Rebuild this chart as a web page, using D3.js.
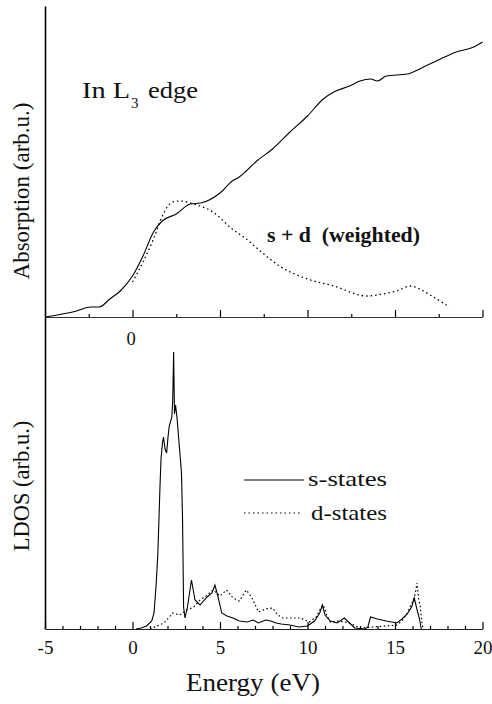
<!DOCTYPE html>
<html>
<head>
<meta charset="utf-8">
<script src="https://cdn.jsdelivr.net/npm/d3@7"></script>
<style>
  html, body { margin: 0; padding: 0; background: #fff; }
  svg { display: block; }
  text { font-family: "Liberation Serif", "Times New Roman", serif; fill: #111; }
</style>
</head>
<body>
<svg id="chart" width="492" height="704"></svg>
<script>
// ---------- DATA ----------
// Top panel: experimental In L3-edge absorption (arb. u.)
const energyAbs = [-5, -3.2, -2.4, -1.9, -1.3, -0.7, 0, 0.6, 1.2, 1.7, 2.5, 3.3, 3.9, 5.0, 5.7, 6.1, 6.5, 7.1, 8.0, 9.0, 10.0, 10.9, 11.5, 12.4, 13.0, 13.6, 14.0, 14.5, 15.7, 16.4, 17.6, 18.5, 19.5, 20];
const absExp    = [0, 6, 10, 10, 18, 26, 41, 61, 85, 96, 103, 113, 114, 124, 136, 140, 146, 156, 168, 185, 201, 218, 225, 231, 236, 238, 236, 241, 243, 248, 258, 265, 270, 275];
// Top panel: calculated s + d (weighted)
const energySD = [0, 0.6, 1.2, 1.7, 2.3, 2.7, 3.5, 4.6, 5.7, 6.1, 6.5, 7.3, 8.4, 10.0, 11.5, 13.4, 14.3, 15.1, 15.9, 16.4, 17.2, 18.1];
const absSD    = [35, 55, 78, 101, 115, 116, 113, 105, 88, 83, 78, 66, 51, 38, 31, 21, 23, 26, 31, 28, 20, 10];
// Bottom panel: LDOS s-states
const energyS = [0.2, 0.5, 0.8, 1.1, 1.23, 1.35, 1.45, 1.57, 1.63, 1.71, 1.77, 1.86, 1.95, 2.03, 2.1, 2.25, 2.3, 2.35, 2.4, 2.46, 2.54, 2.8, 2.86, 2.92, 3.0, 3.14, 3.37, 3.57, 3.86, 4.26, 4.54, 4.71, 4.89, 5.1, 5.4, 5.74, 6.1, 6.54, 6.9, 7.2, 7.6, 7.9, 8.2, 8.5, 9.0, 9.5, 10.0, 10.4, 10.7, 10.85, 11.0, 11.3, 11.7, 12.1, 12.4, 12.7, 13.3, 13.45, 13.6, 14.0, 14.5, 15.1, 15.4, 15.7, 15.95, 16.1, 16.25, 16.4, 16.5];
const ldosS   = [0, 1, 3, 8, 16, 44, 76, 142, 170, 186, 192, 180, 176, 192, 203, 212, 230, 277, 215, 224, 212, 156, 109, 22, 11, 22, 49, 29, 24, 32, 36, 44, 32, 16, 13, 11, 8, 7, 9, 6, 9, 8, 6, 5, 4, 2, 3, 8, 16, 24, 14, 8, 6, 11, 6, 1, 0, 2, 12, 10, 8, 6, 10, 15, 22, 31, 20, 10, 0];
// Bottom panel: LDOS d-states
const energyD = [1.0, 1.4, 1.8, 2.3, 2.7, 3.1, 3.5, 3.86, 4.2, 4.6, 5.0, 5.37, 5.74, 6.1, 6.5, 6.8, 7.2, 7.6, 8.0, 8.3, 8.6, 9.0, 9.6, 10.1, 10.5, 10.7, 10.9, 11.1, 11.3, 11.8, 12.4, 13.0, 13.7, 14.5, 15.1, 15.4, 15.7, 16.0, 16.15, 16.26, 16.35, 16.43, 16.55, 16.6];
const ldosD   = [0, 3, 6, 16, 14, 19, 22, 29, 33, 39, 33, 39, 31, 28, 39, 32, 17, 20, 21, 14, 11, 11, 11, 7, 12, 19, 24, 14, 7, 8, 6, 1, 2, 3, 4, 8, 16, 27, 35, 46, 30, 24, 5, 1];
// Axis ticks
const majorTicks = [-5, 0, 5, 10, 15, 20];
const tickLabels = ["-5", "0", "5", "10", "15", "20"];
const topMajorTicks = [0, 5, 10, 15, 20];
const topMinorTicks = [-2.5, 2.5, 7.5, 12.5, 17.5];
const bottomMinorTicks = d3.range(-4, 20, 1).filter(v => v % 5 !== 0);
const topTickLabel = ["0"];
const legendLabels = ["s-states", "d-states"];

// ---------- SCALES ----------
const svg = d3.select("#chart");
const x = d3.scaleLinear().domain([-5, 20]).range([45, 482.5]);
const yTop = d3.scaleLinear().domain([0, 312]).range([317, 5]);
const yBot = d3.scaleLinear().domain([0, 300]).range([629, 329]);

const zip = (a, b) => a.map((v, i) => [v, b[i]]);

// ---------- AXES ----------
// left vertical axis spanning both panels
const yFull = d3.scaleLinear().domain([0, 1]).range([629, 6]);
svg.append("g").attr("transform", "translate(45,0)")
  .call(d3.axisLeft(yFull).tickValues([]).tickSizeOuter(0))
  .call(g => g.select(".domain").attr("stroke", "#000").attr("stroke-width", 1.6));

// top panel baseline
svg.append("g").attr("transform", `translate(0,${yTop(0)})`)
  .call(d3.axisBottom(x).tickValues(topMajorTicks).tickSize(-7).tickSizeOuter(0).tickFormat(""))
  .call(g => g.select(".domain").attr("stroke", "#333").attr("stroke-width", 1.2))
  .call(g => g.selectAll(".tick line").attr("stroke", "#000").attr("stroke-width", 1.2));
svg.append("g").attr("transform", `translate(0,${yTop(0)})`)
  .call(d3.axisBottom(x).tickValues(topMinorTicks).tickSize(-3).tickFormat(""))
  .call(g => g.select(".domain").remove())
  .call(g => g.selectAll(".tick line").attr("stroke", "#000").attr("stroke-width", 1.2));
svg.append("text").attr("x", x(0) - 1.5).attr("y", 345).attr("text-anchor", "middle")
  .attr("font-size", 18.5).text(topTickLabel[0]);

// bottom panel axis
svg.append("g").attr("transform", `translate(0,${yBot(0)})`)
  .call(d3.axisBottom(x).tickValues(majorTicks).tickSize(-7).tickSizeOuter(0).tickPadding(12)
        .tickFormat((d, i) => tickLabels[i]))
  .call(g => g.select(".domain").attr("stroke", "#222").attr("stroke-width", 1.2))
  .call(g => g.selectAll(".tick line").attr("stroke", "#000").attr("stroke-width", 1.2))
  .call(g => g.selectAll(".tick text").attr("font-size", 19).attr("font-family", "Liberation Serif").attr("fill", "#111"));
svg.append("g").attr("transform", `translate(0,${yBot(0)})`)
  .call(d3.axisBottom(x).tickValues(bottomMinorTicks).tickSize(-3).tickFormat(""))
  .call(g => g.select(".domain").remove())
  .call(g => g.selectAll(".tick line").attr("stroke", "#000").attr("stroke-width", 1.2));

// ---------- CURVES ----------
const lineTop = d3.line().x(d => x(d[0])).y(d => yTop(d[1])).curve(d3.curveMonotoneX);
const lineBot = d3.line().x(d => x(d[0])).y(d => yBot(d[1]));

svg.append("path").datum(zip(energyAbs, absExp)).attr("d", lineTop)
  .attr("fill", "none").attr("stroke", "#000").attr("stroke-width", 1.1);
svg.append("path").datum(zip(energySD, absSD)).attr("d", lineTop)
  .attr("fill", "none").attr("stroke", "#000").attr("stroke-width", 1.3).attr("stroke-dasharray", "1.5,3");

svg.append("path").datum(zip(energyD, ldosD)).attr("d", lineBot)
  .attr("fill", "none").attr("stroke", "#000").attr("stroke-width", 1.2).attr("stroke-dasharray", "1.5,2.5");
svg.append("path").datum(zip(energyS, ldosS)).attr("d", lineBot)
  .attr("fill", "none").attr("stroke", "#000").attr("stroke-width", 1.1);

// ---------- TEXT ----------
svg.append("text").attr("transform", "translate(29,191) rotate(-90)").attr("text-anchor", "middle")
  .attr("font-size", 23).text("Absorption (arb.u.)");
svg.append("text").attr("transform", "translate(29,486) rotate(-90)").attr("text-anchor", "middle")
  .attr("font-size", 22.5).text("LDOS (arb.u.)");

svg.append("text").attr("x", 186).attr("y", 691).attr("font-size", 26)
  .attr("textLength", 134).attr("lengthAdjust", "spacingAndGlyphs").text("Energy (eV)");

svg.append("text").attr("x", 82).attr("y", 98).attr("font-size", 24)
  .attr("textLength", 48).attr("lengthAdjust", "spacingAndGlyphs").text("In L");
svg.append("text").attr("x", 131).attr("y", 108).attr("font-size", 15).text("3");
svg.append("text").attr("x", 148).attr("y", 98).attr("font-size", 24)
  .attr("textLength", 50).attr("lengthAdjust", "spacingAndGlyphs").text("edge");

svg.append("text").attr("x", 267).attr("y", 242).attr("font-size", 20).attr("font-weight", "bold")
  .style("white-space", "pre").attr("textLength", 153).attr("lengthAdjust", "spacingAndGlyphs")
  .text("s + d  (weighted)");

// legend
svg.append("line").attr("x1", 244).attr("x2", 304).attr("y1", 480).attr("y2", 480)
  .attr("stroke", "#000").attr("stroke-width", 1.2);
svg.append("line").attr("x1", 244).attr("x2", 302).attr("y1", 513).attr("y2", 513)
  .attr("stroke", "#000").attr("stroke-width", 1.2).attr("stroke-dasharray", "1.5,3");
svg.append("text").attr("x", 308).attr("y", 486).attr("font-size", 21)
  .attr("textLength", 79).attr("lengthAdjust", "spacingAndGlyphs").text(legendLabels[0]);
svg.append("text").attr("x", 311).attr("y", 520).attr("font-size", 21)
  .attr("textLength", 76).attr("lengthAdjust", "spacingAndGlyphs").text(legendLabels[1]);
</script>
</body>
</html>
